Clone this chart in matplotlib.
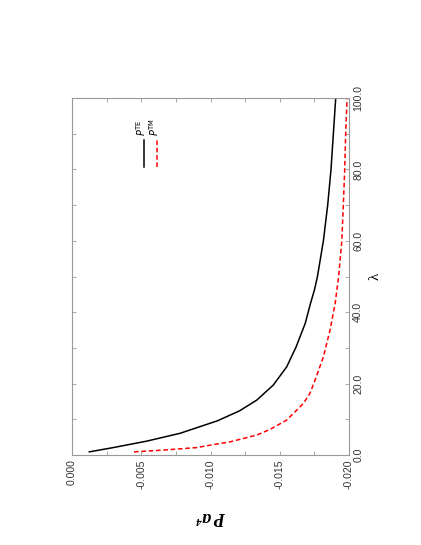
import matplotlib
matplotlib.use("Agg")
import matplotlib.pyplot as plt
from matplotlib.ticker import MultipleLocator, FormatStrFormatter

plt.rcParams['axes.unicode_minus'] = False
plt.rcParams['font.family'] = ['Liberation Sans', 'DejaVu Sans']

lam_te = [0.9, 2.1, 3.9, 6.1, 9.6, 12.4, 15.4, 19.6, 24.7, 30.3, 36.9, 42.5, 46.2, 50.0,
          60.0, 70.0, 80.0, 90.0, 100.0]
p_te = [-0.00125, -0.00298, -0.00539, -0.0078, -0.0105, -0.0121, -0.01334, -0.01453, -0.0155,
        -0.01618, -0.01684, -0.01722, -0.0175, -0.01772, -0.01815, -0.01846, -0.0187, -0.01887, -0.01904]

lam_tm = [0.9, 1.4, 2.1, 3.0, 3.7, 5.6, 7.2, 9.8, 12.6, 14.5, 17.3, 21.0, 27.5, 35.0, 42.5,
          50.0, 60.0, 70.0, 80.0, 90.0, 100.0]
p_tm = [-0.00448, -0.00659, -0.009, -0.0103, -0.01141, -0.01334, -0.0143, -0.0155, -0.01623,
        -0.01671, -0.01718, -0.01755, -0.01815, -0.01863, -0.019, -0.01925, -0.01948, -0.01959,
        -0.01969, -0.01976, -0.01986]

frame = '#999999'
txt = '#333333'

fig = plt.figure(figsize=(4.21, 5.45), dpi=100)
ax = fig.add_axes([0.171, 0.165, 0.658, 0.655])

# the page is turned: P runs along the bottom, lambda up the right side
ax.plot(p_te, lam_te, color='black', lw=1.1, solid_joinstyle='round')
ax.plot(p_tm, lam_tm, color='red', lw=1.1, dashes=(3, 1.8))

ax.set_xlim(0, -0.020)
ax.set_ylim(0, 100)

ax.xaxis.set_major_locator(MultipleLocator(0.005))
ax.xaxis.set_minor_locator(MultipleLocator(0.0025))
ax.xaxis.set_major_formatter(FormatStrFormatter('%.3f'))
ax.yaxis.set_major_locator(MultipleLocator(20))
ax.yaxis.set_minor_locator(MultipleLocator(10))
ax.yaxis.set_major_formatter(FormatStrFormatter('%.1f'))

ax.yaxis.tick_right()
ax.yaxis.set_label_position('right')
ax.tick_params(which='both', direction='in', top=True, bottom=True, left=True, right=True,
               length=3, width=0.6, color=frame, labelsize=7.5, labelcolor=txt, pad=3)
ax.tick_params(axis='y', labelleft=False, labelright=True)
for lbl in ax.get_xticklabels():
    lbl.set_rotation(90)
for lbl in ax.get_yticklabels():
    lbl.set_rotation(90)
    lbl.set_verticalalignment('center')

for s in ax.spines.values():
    s.set_color(frame)
    s.set_linewidth(0.8)

ax.set_xlabel('P a⁴', rotation=180, fontsize=13, fontweight='bold', fontstyle='italic',
              family=['Liberation Serif', 'DejaVu Serif'], labelpad=14)
ax.set_ylabel('λ', rotation=90, fontsize=11, family=['Liberation Serif', 'DejaVu Serif'], labelpad=4)

# legend, turned with the page
ax.plot([0.26, 0.26], [0.807, 0.882], transform=ax.transAxes, color='black', lw=1.1)
ax.plot([0.306, 0.306], [0.807, 0.882], transform=ax.transAxes, color='red', lw=1.1, dashes=(3, 1.8))
ax.text(0.249, 0.893, r'$P^{\mathrm{TE}}$', transform=ax.transAxes, rotation=90,
        ha='center', va='bottom', fontsize=7)
ax.text(0.297, 0.893, r'$P^{\mathrm{TM}}$', transform=ax.transAxes, rotation=90,
        ha='center', va='bottom', fontsize=7)

fig.savefig('out.png', dpi=100)
